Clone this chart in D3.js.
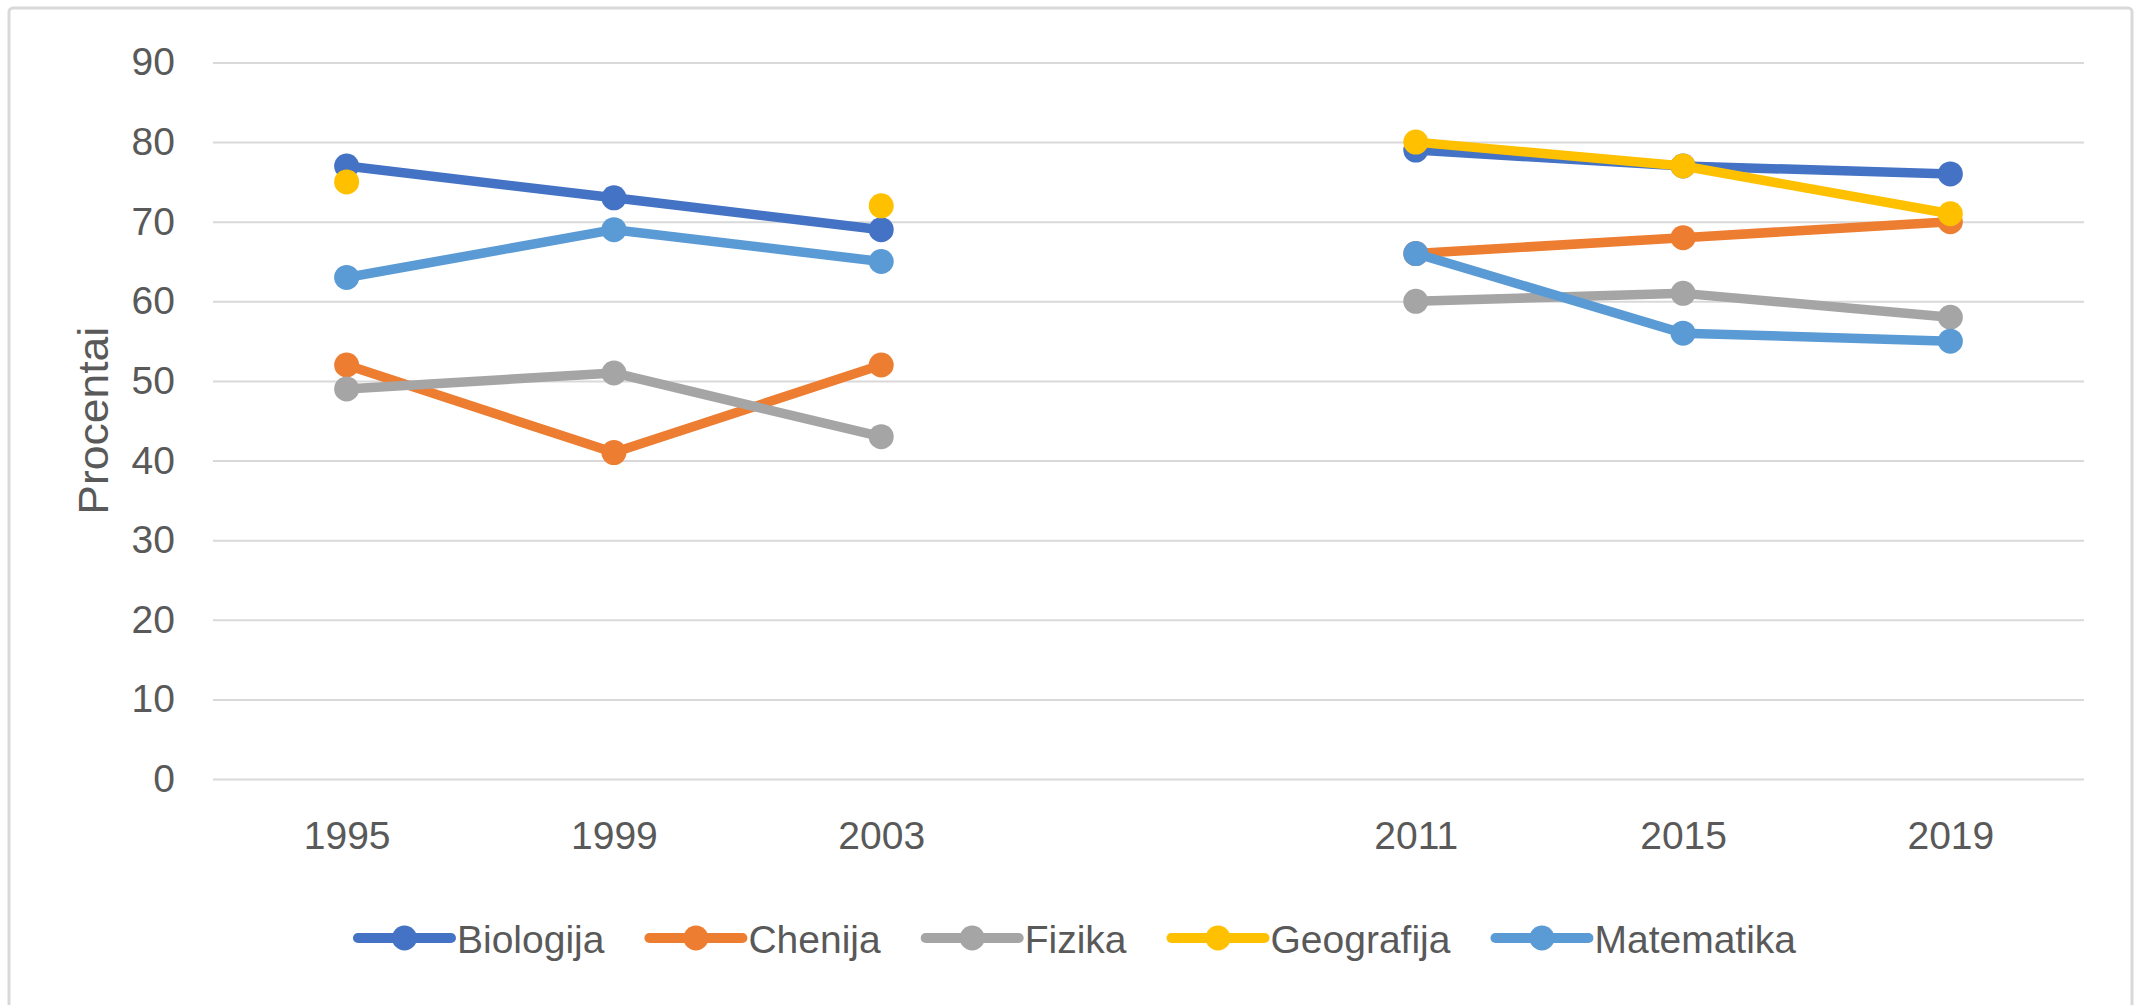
<!DOCTYPE html>
<html>
<head>
<meta charset="utf-8">
<script src="https://cdn.jsdelivr.net/npm/d3@7"></script>
<style>
  html, body { margin: 0; padding: 0; background: #fff; }
  text { font-family: "Liberation Sans", Arial, sans-serif; fill: #595959; }
</style>
</head>
<body>
<div id="chart"></div>
<script>
const years = ['1995', '1999', '2003', '', '2011', '2015', '2019'];
const yTicks = [0, 10, 20, 30, 40, 50, 60, 70, 80, 90];
const seriesNames = ['Biologija', 'Chenija', 'Fizika', 'Geografija', 'Matematika'];
const biologija = [77, 73, 69, null, 79, 77, 76];
const chenija = [52, 41, 52, null, 66, 68, 70];
const fizika = [49, 51, 43, null, 60, 61, 58];
const geografija = [75, null, 72, null, 80, 77, 71];
const matematika = [63, 69, 65, null, 66, 56, 55];
const colors = ['#4472c4', '#ed7d31', '#a5a5a5', '#ffc000', '#5b9bd5'];

const W = 2144, H = 1005;
const plot = { left: 213, right: 2084, top: 62.5, bottom: 779 };

const series = seriesNames.map((name, i) => ({
  name,
  color: colors[i],
  values: [biologija, chenija, fizika, geografija, matematika][i]
}));

const svg = d3.select('#chart')
  .append('svg')
  .attr('width', W)
  .attr('height', H);

svg.append('rect')
  .attr('x', 9).attr('y', 8)
  .attr('width', 2123).attr('height', 1010)
  .attr('rx', 4)
  .attr('fill', '#fff')
  .attr('stroke', '#d9d9d9')
  .attr('stroke-width', 3);

const x = d3.scalePoint().domain(years).range([plot.left, plot.right]).padding(0.5);
const y = d3.scaleLinear().domain([0, 90]).range([plot.bottom, plot.top]);

// gridlines + y labels
const yAxis = svg.append('g')
  .attr('transform', `translate(${plot.left}, 0)`)
  .call(d3.axisLeft(y).tickValues(yTicks).tickSize(-(plot.right - plot.left)).tickPadding(38));
yAxis.select('.domain').remove();
yAxis.selectAll('line').attr('stroke', '#d9d9d9').attr('stroke-width', 2);
yAxis.selectAll('text')
  .attr('font-size', 39)
  .style('font-family', '"Liberation Sans", Arial, sans-serif')
  .attr('fill', '#595959');

// x labels
const xAxis = svg.append('g')
  .attr('transform', `translate(0, ${plot.bottom})`)
  .call(d3.axisBottom(x).tickSize(0).tickPadding(42));
xAxis.select('.domain').remove();
xAxis.selectAll('text')
  .attr('font-size', 39)
  .style('font-family', '"Liberation Sans", Arial, sans-serif')
  .attr('fill', '#595959');

svg.append('text')
  .attr('transform', `translate(108, ${(plot.top + plot.bottom) / 2}) rotate(-90)`)
  .attr('text-anchor', 'middle')
  .attr('font-size', 42)
  .attr('textLength', 188)
  .attr('lengthAdjust', 'spacingAndGlyphs')
  .text('Procentai');

const line = d3.line()
  .defined(d => d.v !== null)
  .x(d => x(d.year))
  .y(d => y(d.v));

series.forEach(s => {
  const pts = s.values.map((v, j) => ({ year: years[j], v }));
  const g = svg.append('g');
  g.append('path')
    .datum(pts)
    .attr('d', line)
    .attr('fill', 'none')
    .attr('stroke', s.color)
    .attr('stroke-width', 9.5)
    .attr('stroke-linejoin', 'round');
  g.selectAll('circle')
    .data(pts.filter(d => d.v !== null))
    .enter()
    .append('circle')
      .attr('cx', d => x(d.year))
      .attr('cy', d => y(d.v))
      .attr('r', 12.5)
      .attr('fill', s.color);
});

// legend
const legend = svg.append('g');
const lineLen = 93, textGap = 6, itemGap = 45, legY = 938;
let cursor = 0;
series.forEach(s => {
  const item = legend.append('g').attr('transform', `translate(${cursor}, 0)`);
  item.append('line')
    .attr('x1', 0).attr('x2', lineLen)
    .attr('y1', legY).attr('y2', legY)
    .attr('stroke', s.color)
    .attr('stroke-width', 10)
    .attr('stroke-linecap', 'round');
  item.append('circle')
    .attr('cx', lineLen / 2).attr('cy', legY)
    .attr('r', 12.5)
    .attr('fill', s.color);
  const t = item.append('text')
    .attr('x', lineLen + textGap)
    .attr('y', 953)
    .attr('font-size', 39)
    .text(s.name);
  cursor += lineLen + textGap + t.node().getComputedTextLength() + itemGap;
});
const legWidth = cursor - itemGap;
legend.attr('transform', `translate(${1077 - legWidth / 2}, 0)`);
</script>
</body>
</html>
